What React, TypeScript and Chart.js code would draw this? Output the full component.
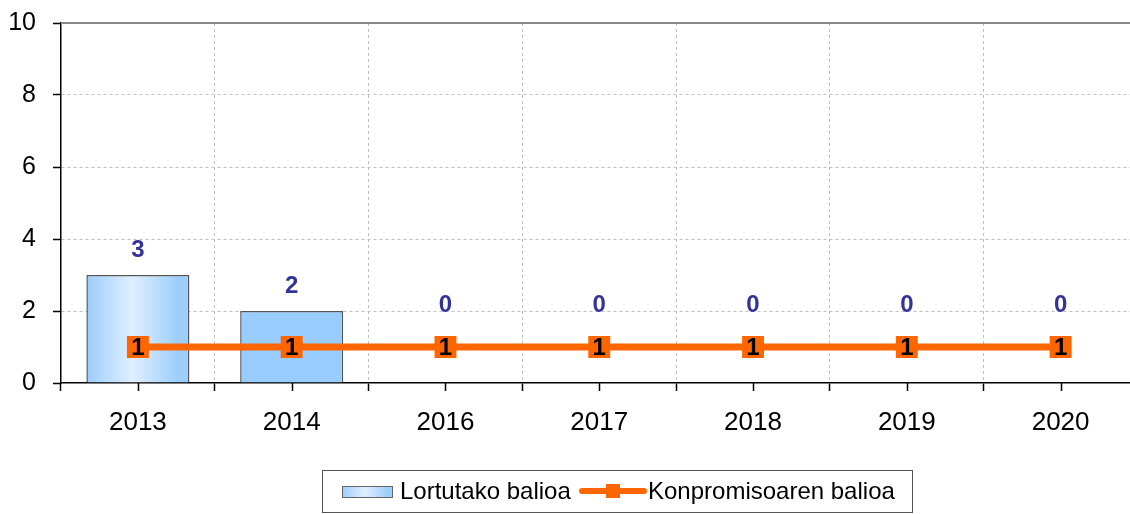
import React, { useEffect, useRef } from "react";
import { Chart, registerables } from "chart.js";

Chart.register(...registerables);

const categories = ["2013", "2014", "2016", "2017", "2018", "2019", "2020"];
const achievedValues = [3, 2, 0, 0, 0, 0, 0];
const commitmentValues = [1, 1, 1, 1, 1, 1, 1];
const yTicks = [0, 2, 4, 6, 8, 10];
const seriesNames = ["Lortutako balioa", "Konpromisoaren balioa"];

const FONT = '"Liberation Sans", Arial, sans-serif';
const BAR_BLUE = "#99ccff";
const ORANGE = "#ff6600";
const LABEL_BLUE = "#333399";
const GRID = "#c0c0c0";

function barGradient(ctx: CanvasRenderingContext2D, x0: number, x1: number) {
  const g = ctx.createLinearGradient(x0, 0, x1, 0);
  g.addColorStop(0, "#9ccdfc");
  g.addColorStop(0.45, "#e0efff");
  g.addColorStop(0.9, "#9ccdfc");
  g.addColorStop(1, "#9ccdfc");
  return g;
}

const decorPlugin = {
  id: "decor",
  beforeDatasetsDraw(chart: any) {
    const { ctx, chartArea } = chart;
    const ys = chart.scales.y;
    const top = Math.round(ys.getPixelForValue(yTicks[yTicks.length - 1]));
    ctx.save();
    ctx.strokeStyle = "#888888";
    ctx.lineWidth = 2;
    ctx.beginPath();
    ctx.moveTo(chartArea.left, top);
    ctx.lineTo(chartArea.right, top);
    ctx.stroke();
    ctx.restore();
  },
  afterDatasetsDraw(chart: any) {
    const { ctx, chartArea } = chart;
    const xs = chart.scales.x;
    const ys = chart.scales.y;
    ctx.save();
    // centre ticks on the x axis
    ctx.strokeStyle = "#000";
    ctx.lineWidth = 1.5;
    categories.forEach((_, i) => {
      const px = Math.round(xs.getPixelForValue(i)) + 0.5;
      ctx.beginPath();
      ctx.moveTo(px, chartArea.bottom);
      ctx.lineTo(px, chartArea.bottom + 8);
      ctx.stroke();
    });
    ctx.font = `bold 24px ${FONT}`;
    ctx.textAlign = "center";
    ctx.textBaseline = "middle";
    // bar value labels
    achievedValues.forEach((v, i) => {
      const px = xs.getPixelForValue(i);
      let py = ys.getPixelForValue(v) - 25;
      const lineY = ys.getPixelForValue(commitmentValues[i]);
      if (py > lineY - 42) py = lineY - 42;
      ctx.fillStyle = LABEL_BLUE;
      ctx.fillText(String(v), px, py);
    });
    // line value labels inside markers
    commitmentValues.forEach((v, i) => {
      const px = xs.getPixelForValue(i);
      const py = ys.getPixelForValue(v);
      ctx.fillStyle = "#000";
      ctx.fillText(String(v), px, py + 1);
    });
    ctx.restore();
  },
  afterDraw(chart: any) {
    const { ctx } = chart;
    ctx.save();
    // legend box
    ctx.strokeStyle = "#555";
    ctx.lineWidth = 1;
    ctx.fillStyle = "#fff";
    ctx.fillRect(322.5, 470.5, 590, 42);
    ctx.strokeRect(322.5, 470.5, 590, 42);
    // bar swatch
    ctx.fillStyle = barGradient(ctx, 342, 393);
    ctx.fillRect(342.5, 486.5, 50, 11);
    ctx.strokeStyle = "#666";
    ctx.strokeRect(342.5, 486.5, 50, 11);
    ctx.font = `24px ${FONT}`;
    ctx.textAlign = "left";
    ctx.textBaseline = "middle";
    ctx.fillStyle = "#000";
    ctx.fillText(seriesNames[0], 400, 492);
    // line swatch
    ctx.strokeStyle = ORANGE;
    ctx.lineWidth = 6;
    ctx.lineCap = "round";
    ctx.beginPath();
    ctx.moveTo(582, 491);
    ctx.lineTo(644, 491);
    ctx.stroke();
    ctx.fillStyle = ORANGE;
    ctx.fillRect(606, 484, 14, 14);
    ctx.fillStyle = "#000";
    ctx.fillText(seriesNames[1], 648, 492);
    ctx.restore();
  },
};

export default function App() {
  const canvasRef = useRef<HTMLCanvasElement | null>(null);

  useEffect(() => {
    document.body.style.margin = "0";
    const canvas = canvasRef.current;
    if (!canvas) return;
    const chart = new Chart(canvas, {
      type: "bar",
      data: {
        labels: categories,
        datasets: [
          {
            type: "bar",
            label: seriesNames[0],
            data: achievedValues,
            order: 1,
            backgroundColor: (c: any) => {
              const ch = c.chart;
              if (!ch.chartArea || c.dataIndex !== 0) return BAR_BLUE;
              const xs = ch.scales.x;
              const step = xs.getPixelForValue(1) - xs.getPixelForValue(0);
              const cx = xs.getPixelForValue(0);
              const half = (step * 0.67) / 2;
              return barGradient(ch.ctx, cx - half, cx + half);
            },
            borderColor: "#555555",
            borderWidth: 1.5,
            categoryPercentage: 1,
            barPercentage: 0.67,
          },
          {
            type: "line",
            label: seriesNames[1],
            data: commitmentValues,
            order: 0,
            borderColor: ORANGE,
            backgroundColor: ORANGE,
            borderWidth: 7,
            pointStyle: "rect",
            pointRadius: 15.5,
            pointHoverRadius: 15.5,
            pointBorderWidth: 0,
            pointBackgroundColor: ORANGE,
          },
        ],
      } as any,
      options: {
        animation: false,
        responsive: false,
        devicePixelRatio: 1,
        layout: { padding: { top: 23, right: 2, left: 0, bottom: 0 } },
        plugins: {
          legend: { display: false },
          tooltip: { enabled: false },
        },
        scales: {
          x: {
            offset: true,
            grid: {
              offset: true,
              color: (c: any) => (c.index === 0 ? "rgba(0,0,0,0)" : GRID),
              lineWidth: 1,
              tickColor: "#000",
              tickLength: 8,
              tickWidth: 1.5,
            },
            border: { display: true, color: "#000", width: 1.5, dash: [3, 3] },
            ticks: {
              color: "#000",
              font: { family: FONT, size: 26 },
              padding: 16,
              maxRotation: 0,
            },
            afterFit: (s: any) => {
              s.height = 131;
            },
          },
          y: {
            min: 0,
            max: 10,
            afterBuildTicks: (s: any) => {
              s.ticks = yTicks.map((v) => ({ value: v }));
            },
            grid: {
              color: (c: any) =>
                c.tick && (c.tick.value === 0 || c.tick.value === 10) ? "rgba(0,0,0,0)" : GRID,
              lineWidth: 1,
              tickColor: "#000",
              tickLength: 8,
              tickWidth: 1.5,
            },
            border: { display: true, color: "#000", width: 1.5, dash: [3, 3] },
            ticks: {
              color: "#000",
              font: { family: FONT, size: 25 },
              padding: 17,
            },
            afterFit: (s: any) => {
              s.width = 61;
              s.paddingTop = 0;
              s.paddingBottom = 0;
            },
          },
        },
      } as any,
      plugins: [decorPlugin],
    });
    return () => chart.destroy();
  }, []);

  return (
    <div style={{ width: 1130, height: 514, overflow: "hidden", position: "relative", background: "#fff" }}>
      <canvas ref={canvasRef} width={1153} height={514} style={{ display: "block" }} />
    </div>
  );
}
